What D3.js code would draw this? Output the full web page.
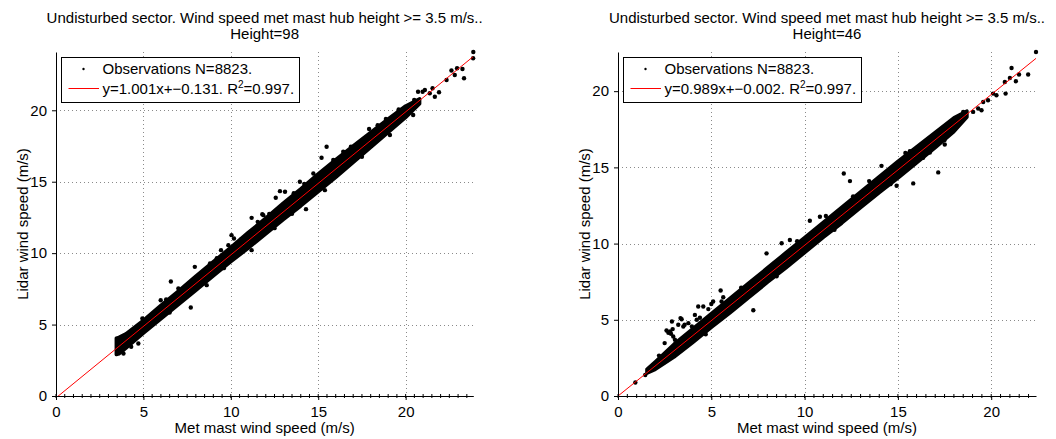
<!DOCTYPE html>
<html><head><meta charset="utf-8">
<script src="https://cdn.jsdelivr.net/npm/d3@7"></script>
<style>
body{margin:0;background:#fff}
text{font-family:"Liberation Sans",Arial,Helvetica,sans-serif;fill:#000}
</style>
</head><body>
<svg id="chart" width="1056" height="439"></svg>
<script>
// ---------------- data ----------------
const titleLine1 = "Undisturbed sector. Wind speed met mast hub height >= 3.5 m/s..";
const panelHeights = ["Height=98", "Height=46"];
const xAxisLabel = "Met mast wind speed (m/s)";
const yAxisLabel = "Lidar wind speed (m/s)";
const observationsLabel = "Observations N=8823.";
const fitSlopes = [1.001, 0.989];
const fitIntercepts = [-0.131, -0.002];
const fitSlopeText = ["1.001", "0.989"];
const fitInterceptText = ["\u22120.131", "\u22120.002"];
const rSquaredText = ["0.997", "0.997"];
const tickValues = [0, 5, 10, 15, 20];
const xMaxima = [23.87, 22.4];
const yMaxima = [24.08, 22.57];

// dense core of the point cloud (x, lower edge, upper edge), Height=98
const band98X    = [3.45, 3.6, 4, 5, 6, 7, 8, 9, 10, 11, 12, 13, 14, 15, 16, 17, 18, 19, 20, 20.8];
const band98Low  = [2.9, 2.95, 3.35, 4.4, 5.4, 6.4, 7.4, 8.4, 9.4, 10.35, 11.35, 12.35, 13.3, 14.3, 15.3, 16.35, 17.4, 18.45, 19.5, 20.45];
const band98High = [4.05, 4.1, 4.35, 5.3, 6.35, 7.35, 8.4, 9.4, 10.4, 11.45, 12.45, 13.5, 14.5, 15.55, 16.55, 17.5, 18.45, 19.4, 20.3, 20.8];
// individual points, Height=98
const points98X = [4.71, 6.57, 7.71, 7.94, 9.44, 9.86, 10.04, 10.18, 11.19, 11.54, 11.8, 12.57, 13.1, 14.3, 15.19, 15.48, 15.38, 17.91, 18.87, 20.49, 20.97, 21.54, 21.67, 21.91, 22.34, 22.81, 23.25, 23.34, 23.86, 23.87, 21.1, 21.38, 20.71, 22.62, 22.94, 4.94, 5.99, 7.0, 8.81, 7.77, 10.58, 11.86, 5.57, 8.62, 11.19, 3.86, 16.87, 17.48, 16.43, 15.86, 14.72, 13.95, 12.81, 19.1, 20.43, 6.3, 9.2, 12.2, 13.6, 14.2, 18.4, 19.6, 6.5, 9.6, 12.5, 13.5, 17.5, 4.3];
const points98Y = [3.67, 8.02, 6.19, 9.04, 10.21, 10.56, 11.26, 11.03, 12.47, 12.19, 12.73, 13.88, 14.3, 13.08, 16.68, 17.45, 14.41, 18.69, 19.39, 20.72, 21.3, 21.54, 20.95, 21.26, 22.12, 22.47, 22.89, 22.24, 23.64, 24.08, 21.42, 21.19, 21.3, 22.78, 22.94, 5.42, 6.7, 7.53, 9.28, 8.06, 10.96, 12.66, 5.07, 7.76, 10.21, 2.97, 17.45, 17.8, 17.1, 16.52, 15.58, 15.0, 14.34, 18.27, 19.67, 6.75, 9.65, 12.75, 14.2, 14.85, 18.95, 20.05, 5.85, 8.95, 11.75, 12.75, 16.75, 3.45];

// dense core of the point cloud, Height=46
const band46X    = [1.55, 2, 3, 4, 5, 6, 7, 8, 9, 10, 11, 12, 13, 14, 15, 16, 17, 18, 18.7];
const band46Low  = [1.5, 1.75, 2.55, 3.5, 4.5, 5.45, 6.45, 7.45, 8.4, 9.4, 10.4, 11.35, 12.35, 13.35, 14.3, 15.3, 16.3, 17.35, 18.3];
const band46High = [1.75, 2.25, 3.4, 4.4, 5.4, 6.4, 7.4, 8.4, 9.4, 10.4, 11.4, 12.4, 13.4, 14.4, 15.4, 16.35, 17.3, 18.25, 18.7];
// individual points, Height=46
const points46X = [0.93, 1.46, 2.79, 2.93, 2.84, 3.23, 3.41, 3.5, 3.77, 4.22, 4.3, 4.57, 4.84, 4.39, 5.1, 5.5, 5.55, 5.64, 2.89, 3.35, 4.12, 5.0, 2.5, 3.96, 3.57, 2.6, 2.7, 2.96, 3.05, 7.25, 7.96, 8.77, 9.21, 10.28, 10.82, 11.14, 12.1, 12.43, 14.93, 15.82, 17.16, 14.12, 13.46, 16.35, 16.71, 16.98, 15.64, 17.51, 17.6, 18.32, 18.5, 19.3, 19.03, 19.48, 19.57, 19.83, 20.1, 20.28, 20.77, 20.73, 21.0, 21.32, 21.09, 21.49, 21.98, 22.4, 2.2, 6.6, 9.6, 12.6, 15.4, 4.7, 8.5, 11.6, 14.6, 17.5];
const points46Y = [0.89, 1.38, 4.23, 4.39, 4.08, 4.67, 5.04, 4.56, 4.78, 5.0, 5.87, 5.87, 5.7, 5.13, 6.2, 6.92, 6.2, 6.48, 4.89, 5.11, 5.32, 6.04, 3.47, 4.56, 4.67, 4.3, 4.15, 3.9, 3.69, 5.63, 9.36, 10.02, 10.24, 11.5, 11.76, 11.81, 14.6, 14.1, 13.79, 13.95, 14.67, 15.1, 14.1, 15.63, 15.98, 16.67, 16.06, 16.5, 17.29, 18.31, 18.64, 18.86, 18.64, 18.75, 19.29, 19.4, 19.84, 19.73, 19.84, 20.6, 20.86, 20.65, 21.52, 21.09, 21.09, 22.57, 2.65, 7.1, 10.15, 13.1, 15.95, 4.05, 7.85, 10.9, 13.9, 16.8];

// ---------------- drawing ----------------
const bandsX = [band98X, band46X], bandsLow = [band98Low, band46Low], bandsHigh = [band98High, band46High];
const ptsX = [points98X, points46X], ptsY = [points98Y, points46Y];
const layout = [{x0: 56, x1: 473.3, y0: 52, y1: 396}, {x0: 618, x1: 1036, y0: 52, y1: 396}];

const svg = d3.select("#chart");
svg.append("rect").attr("width", 1056).attr("height", 439).attr("fill", "#fff");

layout.forEach((L, i) => {
  const xs = d3.scaleLinear().domain([0, xMaxima[i]]).range([L.x0, L.x1]);
  const ys = d3.scaleLinear().domain([0, yMaxima[i]]).range([L.y1, L.y0]);
  const g = svg.append("g");

  const clipId = "clip" + i;
  svg.append("clipPath").attr("id", clipId).append("rect")
    .attr("x", L.x0).attr("y", L.y0).attr("width", L.x1 - L.x0).attr("height", L.y1 - L.y0);

  // grid
  const grid = g.append("g").attr("stroke", "#8a8a8a").attr("stroke-width", 1).attr("stroke-dasharray", "1,3");
  tickValues.filter(t => t > 0).forEach(t => {
    grid.append("line").attr("x1", Math.round(xs(t)) + 0.5).attr("x2", Math.round(xs(t)) + 0.5).attr("y1", L.y0).attr("y2", L.y1);
    grid.append("line").attr("y1", Math.round(ys(t)) + 0.5).attr("y2", Math.round(ys(t)) + 0.5).attr("x1", L.x0).attr("x2", L.x1);
  });

  // dense cloud
  const area = d3.area()
    .x((d, k) => xs(bandsX[i][k]))
    .y0((d, k) => ys(bandsLow[i][k]))
    .y1((d, k) => ys(bandsHigh[i][k]));
  g.append("path").datum(bandsX[i]).attr("d", area)
    .attr("fill", "#000").attr("stroke", "#000").attr("stroke-width", 3.5).attr("stroke-linejoin", "round");

  // individual points
  g.append("g").selectAll("circle").data(ptsX[i]).join("circle")
    .attr("cx", (d) => xs(d)).attr("cy", (d, k) => ys(ptsY[i][k])).attr("r", 2.2).attr("fill", "#000");

  // fit line
  const fx = [0, xMaxima[i]];
  g.append("line").attr("clip-path", `url(#${clipId})`)
    .attr("x1", xs(fx[0])).attr("y1", ys(fitSlopes[i] * fx[0] + fitIntercepts[i]))
    .attr("x2", xs(fx[1])).attr("y2", ys(fitSlopes[i] * fx[1] + fitIntercepts[i]))
    .attr("stroke", "#ff0000").attr("stroke-width", 1);

  // axes
  const xAxis = d3.axisBottom(xs).tickValues(tickValues).tickSize(4).tickSizeOuter(0).tickPadding(6);
  const yAxis = d3.axisLeft(ys).tickValues(tickValues).tickSize(4).tickSizeOuter(0).tickPadding(5);
  const gx = g.append("g").attr("transform", `translate(0,${L.y1})`).call(xAxis);
  const gy = g.append("g").attr("transform", `translate(${L.x0},0)`).call(yAxis);
  [gx, gy].forEach(a => {
    a.selectAll("text").style("font-size", "15px").style("font-family", '"Liberation Sans",Arial,sans-serif').attr("fill", "#000");
    a.selectAll("line,path").attr("stroke", "#000");
  });
  // minor ticks on x
  const minor = d3.range(0, xMaxima[i], 0.5);
  g.append("g").selectAll("line").data(minor).join("line")
    .attr("x1", d => xs(d)).attr("x2", d => xs(d)).attr("y1", L.y1 - 2).attr("y2", L.y1 + 2)
    .attr("stroke", "#000").attr("stroke-width", 1);

  // titles
  const cx = (L.x0 + L.x1) / 2;
  g.append("text").attr("x", cx).attr("y", 22.5).attr("text-anchor", "middle").style("font-size", "15px").text(titleLine1);
  g.append("text").attr("x", cx).attr("y", 39).attr("text-anchor", "middle").style("font-size", "15px").text(panelHeights[i]);
  g.append("text").attr("x", cx).attr("y", 433).attr("text-anchor", "middle").style("font-size", "15px").text(xAxisLabel);
  g.append("text").attr("transform", `translate(${L.x0 - 28},${(L.y0 + L.y1) / 2}) rotate(-90)`)
    .attr("text-anchor", "middle").style("font-size", "15px").text(yAxisLabel);

  // legend
  const lx = L.x0 + 5, ly = 57;
  const leg = g.append("g");
  leg.append("rect").attr("x", lx + 0.5).attr("y", ly + 0.5).attr("width", 238).attr("height", 45)
    .attr("fill", "#fff").attr("stroke", "#000").attr("stroke-width", 1);
  leg.append("circle").attr("cx", lx + 22.5).attr("cy", 69).attr("r", 1.2).attr("fill", "#000");
  leg.append("text").attr("x", lx + 41.5).attr("y", 74).style("font-size", "15px").text(observationsLabel);
  leg.append("line").attr("x1", lx + 7.5).attr("x2", lx + 38).attr("y1", 88.5).attr("y2", 88.5)
    .attr("stroke", "#ff0000").attr("stroke-width", 1);
  const t2 = leg.append("text").attr("x", lx + 41.5).attr("y", 94).style("font-size", "15px");
  t2.append("tspan").text(`y=${fitSlopeText[i]}x+${fitInterceptText[i]}. R`);
  t2.append("tspan").attr("dy", -6).style("font-size", "10px").text("2");
  t2.append("tspan").attr("dy", 6).text(`=${rSquaredText[i]}.`);
});
</script>
</body></html>
